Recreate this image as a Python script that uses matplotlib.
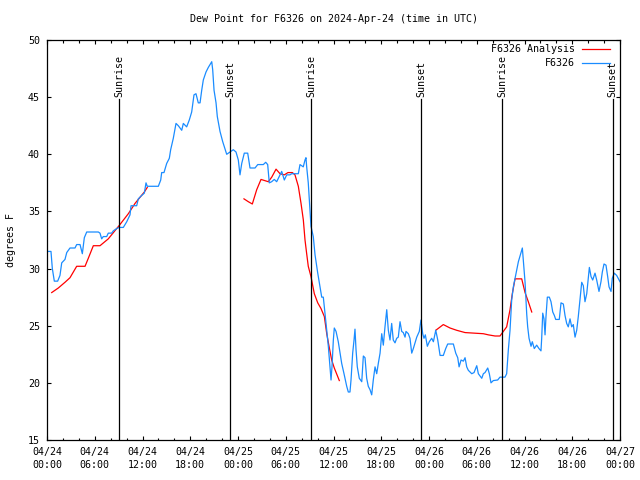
import numpy as np
import matplotlib
matplotlib.use("Agg")
import matplotlib.pyplot as plt

# hours since 2024-04-24 00:00 UTC
obs_hours = [0.16, 0.5, 0.67, 0.92, 1.34, 1.63, 1.85, 2.26, 2.48, 2.89, 3.52, 3.73, 4.15, 4.44, 4.69,
             4.99, 6.45, 6.66, 6.87, 7.07, 7.5, 7.7, 8.13, 8.33, 8.76, 9.05, 9.59, 10.02, 10.43, 10.56,
             11.27, 11.47, 11.9, 12.23, 12.44, 12.6, 13.99, 14.29, 14.41, 14.7, 15.04, 15.37, 15.54, 15.87,
             16.21, 16.5, 16.93, 17.13, 17.55, 17.88, 18.18, 18.47, 18.72, 19.01, 19.23, 19.44, 19.64,
             19.98, 20.27, 20.7, 20.82, 20.99, 21.24, 21.4, 21.74, 22.08, 22.58, 23.0, 23.41, 23.75,
             24.04, 24.25, 24.47, 24.79, 25.22, 25.51, 26.14, 26.48, 27.18, 27.48, 27.73, 27.93, 28.23,
             28.56, 28.86, 29.28, 29.49, 29.82, 30.12, 30.53, 30.75, 31.58, 31.79, 32.2, 32.42, 32.54,
             32.63, 32.83, 32.96, 33.17, 33.46, 33.68, 34.02, 34.31, 34.52, 34.72, 34.93, 35.15, 35.35,
             35.56, 35.69, 35.81, 35.98, 36.1, 36.32, 36.6, 36.82, 37.03, 37.32, 37.66, 37.86, 38.07,
             38.2, 38.41, 38.58, 38.7, 38.83, 38.99, 39.24, 39.55, 39.75, 39.96, 40.17, 40.37, 40.59,
             40.8, 41.0, 41.22, 41.43, 41.63, 41.85, 42.06, 42.26, 42.47, 42.69, 42.89, 43.1, 43.31,
             43.51, 43.73, 43.94, 44.14, 44.36, 44.57, 44.77, 44.99, 45.11, 45.4, 45.61, 45.83, 46.03,
             46.24, 46.46, 46.78, 46.99, 47.21, 47.37, 47.54, 47.79, 48.04, 48.34, 48.55, 48.85, 49.1,
             49.39, 49.8, 50.1, 50.35, 51.06, 51.36, 51.61, 51.78, 52.03, 52.32, 52.53, 52.74, 52.94,
             53.37, 53.66, 54.0, 54.2, 54.63, 54.83, 55.04, 55.38, 55.58, 55.79, 56.08, 56.63, 56.92,
             57.55, 57.76, 57.97, 58.18, 58.39, 58.6, 58.81, 59.23, 59.56, 59.73, 59.85, 60.07, 60.28,
             60.4, 60.57, 60.82, 60.98, 61.23, 61.53, 61.82, 62.07, 62.16, 62.29, 62.45, 62.58, 62.7,
             62.87, 63.12, 63.33, 63.55, 63.75, 63.92, 64.37, 64.59, 64.88, 65.09, 65.3, 65.5, 65.72,
             65.93, 66.13, 66.35, 66.56, 66.76, 66.98, 67.19, 67.39, 67.6, 67.82, 68.02, 68.15, 68.36,
             68.57, 68.86, 69.07, 69.36, 69.61, 69.78, 69.99, 70.24, 70.45, 70.62, 70.87, 71.03, 71.28,
             71.58, 72.0]
obs_dewpt = [31.5, 31.5, 30.0, 28.9, 28.9, 29.4, 30.5, 30.8, 31.4, 31.8, 31.8, 32.1, 32.1, 31.3, 32.7,
             33.2, 33.2, 33.1, 32.6, 32.8, 32.8, 33.1, 33.1, 33.3, 33.5, 33.6, 33.6, 34.1, 34.7, 35.5,
             35.5, 36.1, 36.4, 36.6, 37.5, 37.2, 37.2, 37.75, 38.4, 38.4, 39.2, 39.65, 40.4, 41.4,
             42.7, 42.5, 42.1, 42.7, 42.4, 43.0, 43.7, 45.2, 45.3, 44.5, 44.5, 45.6, 46.5,
             47.2, 47.6, 48.1, 47.4, 45.6, 44.5, 43.3, 42.0, 41.1, 40.0, 40.2, 40.4, 40.2,
             39.5, 38.2, 39.2, 40.1, 40.1, 38.8, 38.8, 39.1, 39.1, 39.3, 39.1, 37.5, 37.6,
             37.8, 37.6, 38.2, 38.5, 37.75, 38.2, 38.2, 38.3, 38.3, 39.1, 38.9, 39.5, 39.7,
             38.9, 37.5, 36.1, 33.7, 32.8, 31.2, 29.6, 28.4, 27.5, 27.5, 26.1, 24.6, 23.2,
             21.4, 20.25, 21.4, 23.75, 24.8, 24.5, 23.6, 22.6, 21.7, 20.8, 19.7, 19.2, 19.2,
             20.25, 22.6, 23.75, 24.7, 22.9, 21.4, 20.4, 20.1, 22.35, 22.2, 20.4, 19.7, 19.4,
             18.95, 20.25, 21.4, 20.8, 21.7, 22.6, 24.3, 23.3, 24.9, 26.4, 24.6, 23.75, 25.2,
             23.75, 23.5, 23.9, 24.0, 25.35, 24.5, 24.4, 24.0, 24.5, 24.3, 23.9, 22.6, 23.0,
             23.5, 24.0, 24.5, 25.5, 24.3, 23.9, 24.2, 23.2, 23.6, 23.9, 23.6, 24.6, 23.75,
             22.4, 22.4, 23.0, 23.4, 23.4, 22.6, 22.2, 21.4, 22.0, 21.9, 22.2, 21.4, 21.1,
             20.8, 20.9, 21.5, 20.8, 20.4, 20.8, 20.9, 21.3, 20.8, 20.0, 20.2, 20.25, 20.5,
             20.5, 20.8, 22.9, 24.6, 27.25, 28.4, 29.15, 30.6, 31.4, 31.8, 30.75, 28.8, 26.0,
             24.9, 23.9, 23.2, 23.6, 23.0, 23.3, 23.0, 22.8, 23.9, 26.1, 25.6, 24.2, 25.8,
             27.5, 27.5, 27.1, 26.2, 25.9, 25.55, 25.55, 27.0, 26.9, 25.9, 25.2, 24.9, 25.6,
             24.9, 25.1, 24.0, 24.6, 25.8, 27.3, 28.8, 28.5, 27.1, 27.8, 29.15, 30.1, 29.3,
             29.0, 29.6, 29.0, 28.0, 28.85, 29.7, 30.4, 30.3, 29.3, 28.4, 28.0, 29.15, 29.6,
             29.4, 28.85]

# analysis, three separate pieces
ana1_hours = [0.59, 1.42, 2.26, 2.89, 3.73, 4.78, 5.19, 5.82, 6.66, 7.7, 9.05, 10.22, 11.06, 12.23, 12.6]
ana1_dewpt = [27.9, 28.3, 28.8, 29.2, 30.2, 30.2, 30.9, 32.0, 32.0, 32.6, 33.75, 34.8, 35.7, 36.7, 37.1]
ana2_hours = [24.75, 25.3, 25.8, 26.35, 26.89, 27.81, 28.24, 28.78, 29.28, 29.82, 30.28, 30.83, 31.16,
              31.58, 31.92, 32.21, 32.42, 32.63, 32.83, 33.17, 33.59, 34.02, 34.43, 34.85, 35.15, 35.44,
              35.77, 36.1, 36.73]
ana2_dewpt = [36.1, 35.85, 35.65, 36.9, 37.8, 37.6, 38.0, 38.7, 38.3, 38.2, 38.4, 38.4, 38.2,
              37.2, 35.7, 34.25, 32.5, 31.3, 30.2, 29.3, 27.8, 27.0, 26.5, 25.8, 24.3, 23.2,
              22.0, 21.3, 20.2]
ana3_hours = [48.85, 49.8, 50.64, 51.48, 52.53, 54.83, 55.46, 56.3, 56.92, 57.34, 57.76, 58.18, 58.47,
              58.81, 59.65, 60.07, 60.48, 60.91]
ana3_dewpt = [24.6, 25.1, 24.8, 24.6, 24.4, 24.3, 24.2, 24.1, 24.1, 24.5, 24.9, 26.4, 27.8,
              29.1, 29.1, 27.9, 27.1, 26.2]

sun_hours = [9.08, 23.02, 33.2, 47.0, 57.2, 71.1]
sun_names = ["Sunrise", "Sunset", "Sunrise", "Sunset", "Sunrise", "Sunset"]

xtick_hours = [0, 6, 12, 18, 24, 30, 36, 42, 48, 54, 60, 66, 72]
xtick_labels = ["04/24\n00:00", "04/24\n06:00", "04/24\n12:00", "04/24\n18:00",
                "04/25\n00:00", "04/25\n06:00", "04/25\n12:00", "04/25\n18:00",
                "04/26\n00:00", "04/26\n06:00", "04/26\n12:00", "04/26\n18:00",
                "04/27\n00:00"]

MONO = "DejaVu Sans Mono"
FS = 7.2
RED = "#ff0000"
BLUE = "#1a8cff"

fig = plt.figure(figsize=(6.4, 4.8), dpi=100)
ax = fig.add_axes([47 / 640, 40 / 480, 573 / 640, 400 / 480])

for h, v in [(ana1_hours, ana1_dewpt), (ana2_hours, ana2_dewpt), (ana3_hours, ana3_dewpt)]:
    ax.plot(h, v, color=RED, lw=0.9, zorder=2)
ax.plot(obs_hours, obs_dewpt, color=BLUE, lw=0.9, zorder=2)

for h, name in zip(sun_hours, sun_names):
    ax.plot([h, h], [15, 44.8], color="black", lw=0.9, zorder=3)
    ax.text(h, 45.05, name, rotation=90, ha="center", va="bottom",
            family=MONO, fontsize=FS, zorder=3)

ax.set_xlim(0, 72)
ax.set_ylim(15, 50)
ax.set_xticks(xtick_hours)
ax.set_xticklabels(xtick_labels, family=MONO, fontsize=FS, linespacing=1.35)
ax.set_xticks(np.arange(0, 73, 2), minor=True)
ax.set_yticks(np.arange(15, 51, 5))
ax.set_yticklabels([str(v) for v in range(15, 51, 5)], family=MONO, fontsize=FS)
ax.tick_params(which="both", direction="in", top=True, right=True, width=0.8)
ax.tick_params(which="major", length=3.2)
ax.tick_params(which="minor", length=1.8)
ax.tick_params(axis="y", pad=5)
ax.tick_params(axis="x", pad=5)
for s in ax.spines.values():
    s.set_linewidth(0.9)

ax.set_ylabel("degrees F", family=MONO, fontsize=FS)
ax.yaxis.set_label_coords(-0.054, 0.5)

fig.text(333.5 / 640, 1 - 19 / 480, "Dew Point for F6326 on 2024-Apr-24 (time in UTC)",
         ha="center", va="center", family=MONO, fontsize=FS)

# legend, text right aligned with line sample after it
for yf, label, col in [(0.9775, "F6326 Analysis", RED), (0.9425, "F6326", BLUE)]:
    ax.text(0.9215, yf, label, transform=ax.transAxes, ha="right", va="center",
            family=MONO, fontsize=FS, zorder=4)
    ax.plot([0.934, 0.983], [yf, yf], transform=ax.transAxes, color=col, lw=0.9,
            clip_on=False, zorder=4)

fig.savefig("out.png", dpi=100)
